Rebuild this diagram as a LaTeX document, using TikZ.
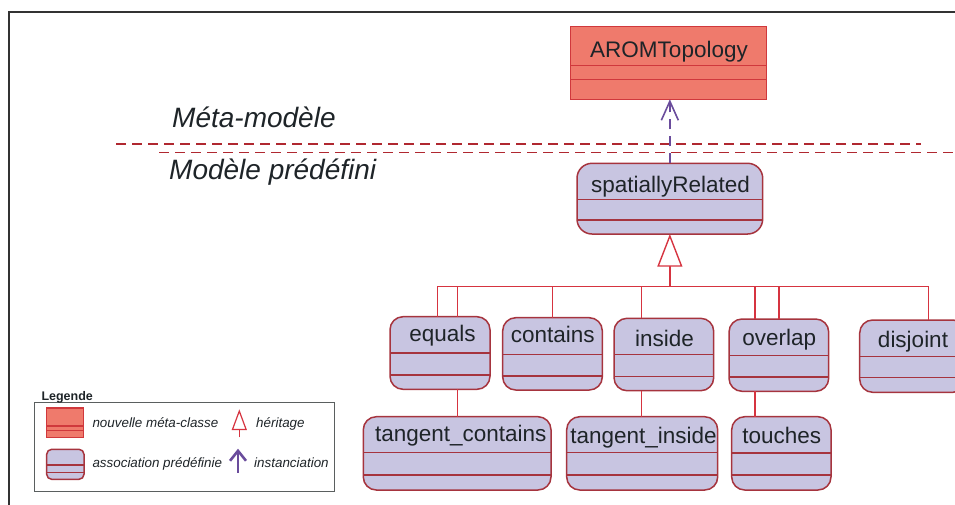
\documentclass[tikz,border=0pt]{standalone}
\usepackage{fontspec}
\setmainfont{Liberation Sans}
\usetikzlibrary{arrows.meta}
\definecolor{metafill}{RGB}{239,122,108}
\definecolor{metaline}{RGB}{208,56,60}
\definecolor{assocfill}{RGB}{200,197,225}
\definecolor{assocline}{RGB}{166,52,62}
\definecolor{connred}{RGB}{214,52,64}
\definecolor{sepred}{RGB}{176,40,48}
\definecolor{instpurple}{RGB}{106,76,156}
\definecolor{txt}{RGB}{30,36,40}
\definecolor{framegrey}{RGB}{50,50,50}
\definecolor{legendgrey}{RGB}{90,95,95}
\tikzset{
  metabox/.style={rectangle, draw=metaline, fill=metafill, line width=1.5pt, inner sep=0pt, outer sep=0pt},
  metaboxline/.style={draw=metaline, line width=1.2pt},
  assocbox/.style={rectangle, draw=assocline, fill=assocfill, line width=1.5pt, inner sep=0pt, outer sep=0pt},
  assocboxline/.style={draw=assocline, line width=1.5pt},
  boxtext/.style={text=txt, inner sep=0pt, font=\fontsize{22.5}{26}\selectfont},
  headtext/.style={text=txt, inner sep=0pt, anchor=base west, font=\fontsize{28}{32}\selectfont\itshape},
  legtext/.style={text=txt, inner sep=0pt, anchor=base west, font=\fontsize{13.4}{16}\selectfont\itshape},
  conn/.style={draw=connred, line width=1.4pt},
  sepline/.style={draw=sepred, line width=1.4pt, dash pattern=on 10pt off 6pt},
  inst/.style={draw=instpurple, line width=1.6pt, dash pattern=on 10pt off 7pt},
  inhtip/.style={-{Triangle[open, length=32.7pt, width=25pt, fill=white, line width=1.4pt]}},
}
\newcommand{\umlbox}[9]{%
  \node[#1, #9, minimum width=#5pt-#3pt, minimum height=#6pt-#4pt] (#2) at ({(#3+#5)/2},{(#4+#6)/2}) {};
  \draw[#1line] (#2.west |- 0,#7) -- (#2.east |- 0,#7);
  \draw[#1line] (#2.west |- 0,#8) -- (#2.east |- 0,#8);
}
\begin{document}
\begin{tikzpicture}[x=1pt, y=-1pt]
\useasboundingbox (0,0) rectangle (955,504);
\begin{scope}
\clip (0,0) rectangle (955,504);
% frame
\coordinate (fr1) at (960,12);
\coordinate (fr2) at (9,12);
\coordinate (fr3) at (9,510);
\draw[framegrey, line width=1.5pt] (fr1) -- (fr2) -- (fr3);

% separator lines
\coordinate (s1a) at (116,144);
\coordinate (s1b) at (920.7,144);
\coordinate (s2a) at (159,152.7);
\coordinate (s2b) at (960,152.7);
\draw[sepline] (s1a) -- (s1b);
\draw[sepline] (s2a) -- (s2b);

\node[headtext] (meta) at (172,127) {Méta-modèle};
\node[headtext] (pred) at (169,179) {Modèle prédéfini};

% boxes
\umlbox{metabox}{arom}{570.7}{26.7}{766.7}{99.3}{65.7}{79.7}{}
\umlbox{assocbox}{sr}{577}{163.3}{762.7}{234}{199.3}{220}{rounded corners=15pt}
\umlbox{assocbox}{eq}{390}{316.7}{490}{389.3}{353}{375}{rounded corners=13pt}
\umlbox{assocbox}{co}{502.7}{317.7}{602.3}{390}{354.3}{376}{rounded corners=13pt}
\umlbox{assocbox}{in}{614}{318.3}{713.7}{390.7}{354.7}{376.3}{rounded corners=13pt}
\umlbox{assocbox}{ov}{729}{319}{828.7}{391.3}{355.3}{377}{rounded corners=13pt}
\umlbox{assocbox}{dj}{859.7}{320}{966}{392.3}{356.3}{377.7}{rounded corners=13pt}
\umlbox{assocbox}{tc}{363.3}{416.7}{551}{490}{452.7}{475}{rounded corners=13pt}
\umlbox{assocbox}{ti}{566.7}{416.7}{717.7}{490}{452.7}{475}{rounded corners=13pt}
\umlbox{assocbox}{to}{731.7}{416.7}{831}{490}{453}{475}{rounded corners=13pt}

\node[boxtext, anchor=base] (arom-t) at (669,57.3) {AROMTopology};
\node[boxtext, anchor=base] (sr-t) at (670.5,192.3) {spatiallyRelated};
\node[boxtext, anchor=base] (eq-t) at (442.5,341.7) {equals};
\node[boxtext, anchor=base] (co-t) at (552.8,342.7) {contains};
\node[boxtext, anchor=base] (in-t) at (664.6,346.7) {inside};
\node[boxtext, anchor=base] (ov-t) at (779.3,345) {overlap};
\node[boxtext, anchor=base] (dj-t) at (913,347.3) {disjoint};
\node[boxtext, anchor=base] (tc-t) at (460.8,441.7) {tangent\_contains};
\node[boxtext, anchor=base] (ti-t) at (643.5,443.3) {tangent\_inside};
\node[boxtext, anchor=base] (to-t) at (781.7,443.3) {touches};

% instanciation
\draw[inst, -{Straight Barb[length=19pt, width=17pt, line width=1.6pt]}] (sr.north) -- (sr.north |- arom.south);

% inheritance tree
\coordinate (bus) at (sr.south |- 0,286.7);
\draw[conn, inhtip] (bus) -- (sr.south);
\draw[conn] (437.3,0 |- eq.north) |- (bus);
\draw[conn] (457.3,0 |- eq.north) |- (bus);
\draw[conn] (552.3,0 |- co.north) |- (bus);
\draw[conn] (641.7,0 |- in.north) |- (bus);
\draw[conn] (755,0 |- ov.north) |- (bus);
\draw[conn] (779,0 |- ov.north) |- (bus);
\draw[conn] (928.3,0 |- dj.north) |- (bus);

% second level
\draw[conn] (457.3,0 |- eq.south) -- (457.3,0 |- tc.north);
\draw[conn] (641.7,0 |- in.south) -- (641.7,0 |- ti.north);
\draw[conn] (755,0 |- ov.south) -- (755,0 |- to.north);

% legend
\node[rectangle, draw=legendgrey, line width=1pt, minimum width=300pt, minimum height=88.7pt, inner sep=0pt, outer sep=0pt] (leg) at (184.3,446.65) {};
\node[text=txt, inner sep=0pt, anchor=base west, font=\bfseries\fontsize{12.5}{15}\selectfont] (leg-t) at (41.3,400.7) {Legende};
\umlbox{metabox}{lg1}{46.7}{408}{83.3}{437.3}{426}{430.7}{line width=1.3pt}
\umlbox{assocbox}{lg2}{46.7}{449.3}{84}{479.3}{465}{472.3}{rounded corners=5pt, line width=1.5pt}
\node[legtext] (lg1-t) at (92.3,427.3) {nouvelle méta-classe};
\node[legtext] (lg2-t) at (92.3,467.3) {association prédéfinie};
\node[legtext] (lg3-t) at (256,427.3) {héritage};
\node[legtext] (lg4-t) at (254,467.3) {instanciation};
\coordinate (lh1) at (239.3,437.3);
\coordinate (lh2) at (239.3,409.3);
\draw[conn, line width=1.2pt, -{Triangle[open, length=20.7pt, width=15pt, fill=white, line width=1.2pt]}] (lh1) -- (lh2);
\coordinate (li1) at (238,472.7);
\coordinate (li2) at (238,448.7);
\draw[draw=instpurple, line width=2.6pt, -{Straight Barb[length=10pt, width=16pt, line width=2.6pt]}] (li1) -- (li2);
\end{scope}
\end{tikzpicture}
\end{document}
